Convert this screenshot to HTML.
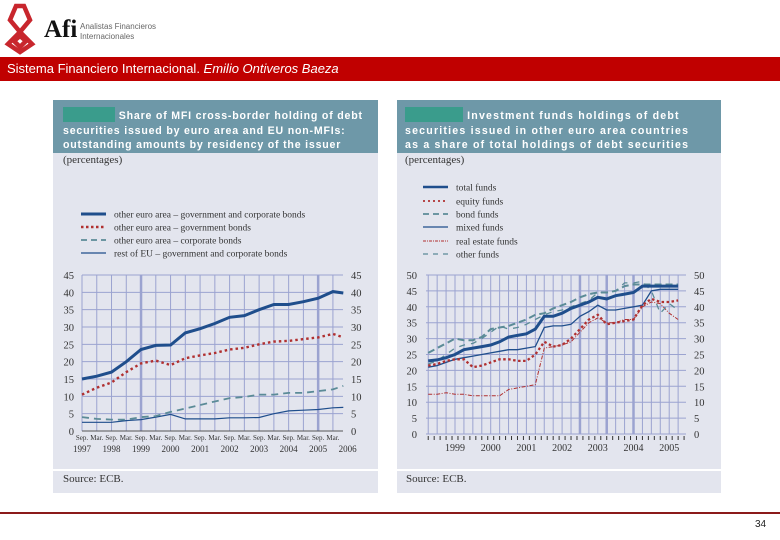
<!DOCTYPE html>
<html><head><meta charset="utf-8"><style>
body{margin:0;width:780px;height:540px;background:#fff;position:relative;overflow:hidden;font-family:"Liberation Sans",sans-serif}
.abs{position:absolute}
.band{background:#6e98a8;color:#fff;font-weight:bold;font-size:10.6px;letter-spacing:0.8px;line-height:14.5px;padding:7px 0 0 10px;box-sizing:border-box;white-space:nowrap;overflow:hidden}
.panel{background:#e3e5ee}
.ser{font-family:"Liberation Serif",serif;color:#333}
</style></head><body>
<svg class="abs" style="left:0;top:0" width="40" height="56">
<g fill="none" stroke="#c8262d" stroke-width="4.5">
<path d="M10 20 L16 6 L24 6 L30 20 L20 32 L8 44 L20 52 L32 44 L20 32 Z"/>
<path d="M14 41 L20 36 L26 41 L20 47 Z"/>
</g></svg>
<div class="abs" style="left:44px;top:16px;font-family:'Liberation Serif',serif;font-weight:bold;font-size:25px;color:#111">Afi</div>
<div class="abs" style="left:80px;top:22px;font-size:8px;line-height:10px;color:#666">Analistas Financieros<br>Internacionales</div>
<div class="abs" style="left:0;top:57px;width:780px;height:24px;background:#c00000;color:#fff;font-size:13px;line-height:24px;padding-left:7px;box-sizing:border-box">Sistema Financiero Internacional. <i>Emilio Ontiveros Baeza</i></div>

<div class="abs panel" style="left:53px;top:100px;width:325px;height:393px"></div>
<div class="abs band" style="left:53px;top:100px;width:325px;height:53px"><span style="display:inline-block;width:52px;height:15px;background:#3a9c8c;vertical-align:-3px;margin-right:0"></span> Share of MFI cross-border holding of debt<br>securities issued by euro area and EU non-MFIs:<br>outstanding amounts by residency of the issuer</div>
<div class="abs ser" style="left:63px;top:154px;font-size:11px">(percentages)</div>
<div class="abs" style="left:53px;top:469px;width:325px;height:2px;background:#fff"></div>
<div class="abs ser" style="left:63px;top:473px;font-size:11px">Source: ECB.</div>

<div class="abs panel" style="left:397px;top:100px;width:324px;height:393px"></div>
<div class="abs band" style="left:397px;top:100px;width:324px;height:53px;padding-left:8px;letter-spacing:1.2px"><span style="display:inline-block;width:58px;height:15px;background:#3a9c8c;vertical-align:-3px;margin-right:0"></span> Investment funds holdings of debt<br>securities issued in other euro area countries<br>as a share of total holdings of debt securities</div>
<div class="abs ser" style="left:405px;top:154px;font-size:11px">(percentages)</div>
<div class="abs" style="left:397px;top:469px;width:324px;height:2px;background:#fff"></div>
<div class="abs ser" style="left:406px;top:473px;font-size:11px">Source: ECB.</div>

<svg id="c" class="abs" style="left:0;top:0" width="780" height="540"></svg>

<div class="abs" style="left:0;top:512px;width:780px;height:2px;background:#8b1a1a"></div>
<div class="abs" style="left:755px;top:519px;font-size:10px;color:#222">34</div>

<script>
const NS='http://www.w3.org/2000/svg';
const svg=document.getElementById('c');
function mk(tag,attrs,parent){const e=document.createElementNS(NS,tag);for(const k in attrs)e.setAttribute(k,attrs[k]);(parent||svg).appendChild(e);return e;}
// ---- left chart data (half-yearly from Sep 1997) ----
const leftTicks=['Sep.','Mar.','Sep.','Mar.','Sep.','Mar.','Sep.','Mar.','Sep.','Mar.','Sep.','Mar.','Sep.','Mar.','Sep.','Mar.','Sep.','Mar.'];
const leftYears=['1997','1998','1999','2000','2001','2002','2003','2004','2005','2006'];
const leftYTicks=[0,5,10,15,20,25,30,35,40,45];
const leftPeriods=[0,1,2,3,4,5,6,7,8,9,10,11,12,13,14,15,16,17,17.7];
const leftTotal=[15,15.8,17,20,23.5,24.7,24.8,28.3,29.5,31,32.8,33.3,35,36.5,36.5,37.3,38.3,40.2,39.8];
const leftGov=[10.5,12.5,14,17,19.5,20.3,19,21,21.8,22.5,23.5,24,25,25.8,26,26.5,27,28,27];
const leftCorp=[4,3.5,3.3,3.3,4,4.3,5.5,6.5,7.5,8.5,9.5,9.8,10.5,10.5,11,11,11.5,12,13];
const leftRestEU=[2.5,2.5,2.5,3,3.3,4,4.8,3.5,3.5,3.5,3.8,3.8,3.9,5,5.8,6,6.2,6.7,6.8];
// ---- right chart data (quarterly from Q4 1998) ----
const rightTimes=[1998.75,1999,1999.25,1999.5,1999.75,2000,2000.25,2000.5,2000.75,2001,2001.25,2001.5,2001.75,2002,2002.25,2002.5,2002.75,2003,2003.25,2003.5,2003.75,2004,2004.25,2004.5,2004.75,2005,2005.25,2005.5,2005.75];
const rightYears=['1999','2000','2001','2002','2003','2004','2005'];
const rightYTicks=[0,5,10,15,20,25,30,35,40,45,50];
const totalFunds=[23,23.3,24,25,26.5,27,27.5,28,29,30.5,31,31.5,33,37,37,38,39.5,40.5,41.5,43,42.5,43.5,44,44.5,46.5,46.5,46.5,46.5,46.5];
const equityFunds=[21.5,22,23,23.5,23.5,21,21.5,22.5,23.5,23.5,23,23,25,29,27.5,28,30,33,36,37.5,34.5,35,35.5,36,40.5,42.5,41.5,41.5,42];
const bondFunds=[25.5,27,28.5,30,29.5,29.5,30.5,33,33.5,34,35,36,37.5,38,39.5,40.5,41.5,43,44,44.5,44.5,45,46.5,47,47,47,47,47,47];
const mixedFunds=[21,21.5,22.5,23.5,24,24.5,25,25.5,26,26.5,26.5,27,27.5,33.5,34,34,34.5,37,38.5,40.5,39,39,39.5,40,40.5,45,45.5,45.5,45.5];
const realEstateFunds=[12.5,12.5,13,12.5,12.5,12,12,12,12,14,14.5,15,15.5,27,27.5,28,29,32,35,36.5,35,35,36,36,40,41.5,41,38,36];
const otherFunds=[22,23,25,27,28,28.5,30,32,34,33,33.5,34.5,36,37.5,38.5,39,40,41,42,44.5,44.5,45,47.5,47.5,48,45,38,41,39];

const GRID='#9ba3d0',BLUE='#1f4e8c',RED='#b03030',TEAL='#5b8b97';
function txt(x,y,s,size,anchor,name){const t=mk('text',{x:x,y:y,'font-size':size,'text-anchor':anchor||'start','font-family':'Liberation Serif, serif',fill:'#333'});t.textContent=s;return t;}
function line(xs,ys,X,Y,style,name){const d=xs.map((v,i)=>(i?'L':'M')+X(v).toFixed(1)+' '+Y(ys[i]).toFixed(1)).join(' ');const p=mk('path',Object.assign({d:d,fill:'none'},style));}
function legend(x,y,style,label,name){const l=mk('line',Object.assign({x1:x,y1:y,x2:x+25,y2:y},style));txt(x+33,y+3.5,label,9.5,'start',name);}

// LEFT
(function(){
const L=82,R=343,T=275,B=431;
const X=t=>L+t*14.76, Y=v=>B-v*(B-T)/45;
mk('rect',{x:L,y:T,width:R-L,height:B-T,fill:'#e3e5ee'});
leftYTicks.forEach(v=>{mk('line',{x1:L,x2:R,y1:Y(v),y2:Y(v),stroke:GRID,'stroke-width':1});txt(L-8,Y(v)+4,String(v),10.5,'end','left-y-tick');txt(R+8,Y(v)+4,String(v),10.5,'start','right-y-tick');});
leftTicks.forEach((s,i)=>{mk('line',{x1:X(i),x2:X(i),y1:T,y2:B,stroke:GRID,'stroke-width':(i==4||i==16)?2.5:1});txt(X(i),440,s,7,'middle','x-tick-month');});
leftYears.forEach((s,i)=>txt(X(i*2),452,s,9,'middle','x-tick-year'));
mk('line',{x1:L,x2:R,y1:B,y2:B,stroke:'#555','stroke-width':1});
line(leftPeriods,leftRestEU,X,Y,{stroke:BLUE,'stroke-width':1.2},'series-rest-eu');
line(leftPeriods,leftCorp,X,Y,{stroke:TEAL,'stroke-width':1.8,'stroke-dasharray':'7 5'},'series-corporate-bonds');
line(leftPeriods,leftGov,X,Y,{stroke:RED,'stroke-width':2.4,'stroke-dasharray':'2.5 3'},'series-government-bonds');
line(leftPeriods,leftTotal,X,Y,{stroke:BLUE,'stroke-width':3},'series-gov-and-corp');
legend(81,214,{stroke:BLUE,'stroke-width':3},'other euro area – government and corporate bonds','legend-gov-and-corp');
legend(81,227,{stroke:RED,'stroke-width':2.4,'stroke-dasharray':'2.5 2.5'},'other euro area – government bonds','legend-government-bonds');
legend(81,240,{stroke:TEAL,'stroke-width':1.8,'stroke-dasharray':'6 4'},'other euro area – corporate bonds','legend-corporate-bonds');
legend(81,253,{stroke:BLUE,'stroke-width':1.2},'rest of EU – government and corporate bonds','legend-rest-eu');
})();

// RIGHT
(function(){
const L=426,R=686,T=275,B=434;
const X=t=>455+(t-1999.5)*35.7, Y=v=>B-v*(B-T)/50;
mk('rect',{x:L,y:T,width:R-L,height:B-T,fill:'#e3e5ee'});
rightYTicks.forEach(v=>{mk('line',{x1:L,x2:R,y1:Y(v),y2:Y(v),stroke:GRID,'stroke-width':1});txt(L-9,Y(v)+4,String(v),10.5,'end','left-y-tick');txt(R+8,Y(v)+4,String(v),10.5,'start','right-y-tick');});
const thick=[2003,2003.75,2004.5];
for(let t=1998.75;t<=2006.01;t+=0.25){const x=X(t);if(x>R+0.5)break;mk('line',{x1:x,x2:x,y1:T,y2:B,stroke:GRID,'stroke-width':thick.some(h=>Math.abs(h-t)<0.01)?2.5:1});}
for(let t=1998.75;t<=2006;t+=1/6){const x=X(t);if(x>R+2)break;mk('line',{x1:x,x2:x,y1:B+2,y2:B+6,stroke:'#333','stroke-width':1});}
rightYears.forEach((s,i)=>txt(X(1999.5+i),451,s,10,'middle','x-tick-year'));
line(rightTimes,realEstateFunds,X,Y,{stroke:RED,'stroke-width':1,'stroke-dasharray':'4 1.5 1 1.5'},'series-real-estate-funds');
line(rightTimes,otherFunds,X,Y,{stroke:TEAL,'stroke-width':1.3,'stroke-dasharray':'6 6'},'series-other-funds');
line(rightTimes,mixedFunds,X,Y,{stroke:BLUE,'stroke-width':1.3},'series-mixed-funds');
line(rightTimes,equityFunds,X,Y,{stroke:RED,'stroke-width':2.3,'stroke-dasharray':'2.5 2.5'},'series-equity-funds');
line(rightTimes,bondFunds,X,Y,{stroke:TEAL,'stroke-width':2,'stroke-dasharray':'7 4'},'series-bond-funds');
line(rightTimes,totalFunds,X,Y,{stroke:BLUE,'stroke-width':3},'series-total-funds');
legend(423,187,{stroke:BLUE,'stroke-width':2.5},'total funds','legend-total-funds');
legend(423,201,{stroke:RED,'stroke-width':1.8,'stroke-dasharray':'2 3'},'equity funds','legend-equity-funds');
legend(423,214,{stroke:TEAL,'stroke-width':1.8,'stroke-dasharray':'6 4'},'bond funds','legend-bond-funds');
legend(423,227,{stroke:BLUE,'stroke-width':1.3},'mixed funds','legend-mixed-funds');
legend(423,241,{stroke:RED,'stroke-width':1,'stroke-dasharray':'3 1 1 1'},'real estate funds','legend-real-estate-funds');
legend(423,254,{stroke:TEAL,'stroke-width':1.3,'stroke-dasharray':'5 5'},'other funds','legend-other-funds');
})();
</script>
</body></html>
